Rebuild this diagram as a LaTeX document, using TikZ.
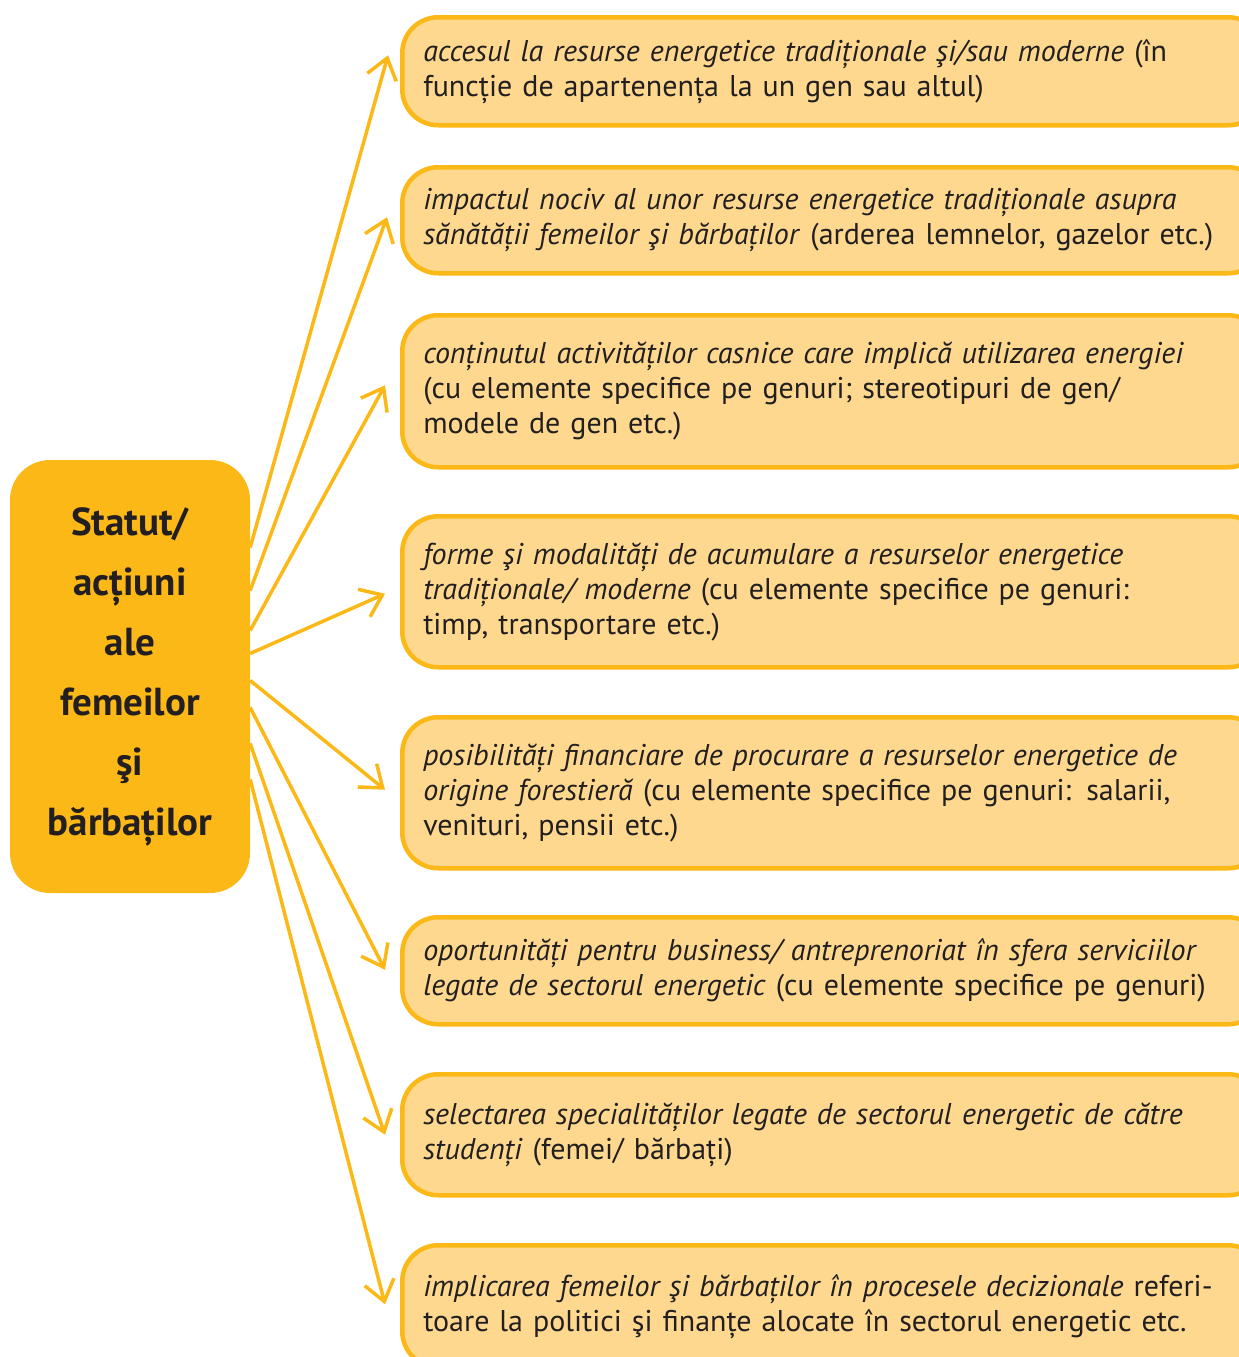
\documentclass[tikz,border=0pt]{standalone}
\usepackage{fontspec}
\setmainfont{PT Sans}
\usepackage{tikz}
\usetikzlibrary{arrows.meta,positioning}
\definecolor{darkgold}{RGB}{251,184,22}
\definecolor{lightgold}{RGB}{253,216,142}
\definecolor{inkgray}{RGB}{35,31,32}
\tikzset{
  srcbox/.style={fill=darkgold, rounded corners=40pt, minimum width=240pt,
    minimum height=433pt, align=center, inner sep=0pt, text=inkgray,
    font=\bfseries\fontsize{39}{60}\selectfont},
  itembox/.style={draw=darkgold, fill=lightgold, line width=4.5pt, rounded corners=36pt,
    anchor=north west, text width=820pt, align=left, inner xsep=21pt, inner ysep=0pt,
    text=inkgray, font=\fontsize{30}{35}\selectfont},
  link/.style={draw=darkgold, line width=3.5pt, -{Straight Barb[length=20pt,width=30pt,line width=3.5pt]}}
}
\begin{document}
\begin{tikzpicture}[x=1pt,y=-1pt]
  \clip (0,0) rectangle (1239,1357);
  % bloc central
  \node[srcbox] (src) at (130,676.5) {Statut/\\acțiuni\\ale\\femeilor\\şi\\bărbaților};
  % casetele din dreapta
  \node[itembox, minimum height=108pt] (b1) at (400,15)
    {\textit{accesul la resurse energetice tradiționale şi/sau moderne} (în\\
     funcție de apartenența la un gen sau altul)};
  \node[itembox, minimum height=106pt] (b2) at (400,165)
    {\textit{impactul nociv al unor resurse energetice tradiționale asupra\\
     sănătății femeilor şi bărbaților} (arderea lemnelor, gazelor etc.)};
  \node[itembox, minimum height=152pt] (b3) at (400,313)
    {\textit{conținutul activităților casnice care implică utilizarea energiei}\\
     (cu elemente specifice pe genuri; stereotipuri de gen/\\
     modele de gen etc.)};
  \node[itembox, minimum height=151pt] (b4) at (400,514)
    {\textit{forme şi modalități de acumulare a resurselor energetice\\
     tradiționale/ moderne} (cu elemente specifice pe genuri:\\
     timp, transportare etc.)};
  \node[itembox, minimum height=151pt] (b5) at (400,715)
    {\textit{posibilități financiare de procurare a resurselor energetice de\\
     origine forestieră} (cu elemente specifice pe genuri: salarii,\\
     venituri, pensii etc.)};
  \node[itembox, minimum height=107pt] (b6) at (400,915)
    {\textit{oportunități pentru business/ antreprenoriat în sfera serviciilor\\
     legate de sectorul energetic} (cu elemente specifice pe genuri)};
  \node[itembox, minimum height=121pt] (b7) at (400,1072)
    {\textit{selectarea specialităților legate de sectorul energetic de către\\
     studenți} (femei/ bărbați)};
  \node[itembox, minimum height=122pt] (b8) at (400,1243)
    {\textit{implicarea femeilor şi bărbaților în procesele decizionale} referi-\\
     toare la politici şi finanțe alocate în sectorul energetic etc.};
  % sagetile
  \draw[link] ([yshift=129pt]src.east) -- ([xshift=-12pt,yshift=16pt]b1.west);
  \draw[link] ([yshift=86pt]src.east) -- ([xshift=-13pt,yshift=3pt]b2.west);
  \draw[link] ([yshift=46pt]src.east) -- ([xshift=-15pt,yshift=6pt]b3.west);
  \draw[link] ([yshift=23pt]src.east) -- ([xshift=-15pt,yshift=-2pt]b4.west);
  \draw[link] ([yshift=-4pt]src.east) -- ([xshift=-15pt,yshift=3pt]b5.west);
  \draw[link] ([yshift=-31pt]src.east) -- ([xshift=-15pt,yshift=1pt]b6.west);
  \draw[link] ([yshift=-67pt]src.east) -- ([xshift=-15pt]b7.west);
  \draw[link] ([yshift=-103pt]src.east) -- ([xshift=-15pt,yshift=2pt]b8.west);
\end{tikzpicture}
\end{document}
